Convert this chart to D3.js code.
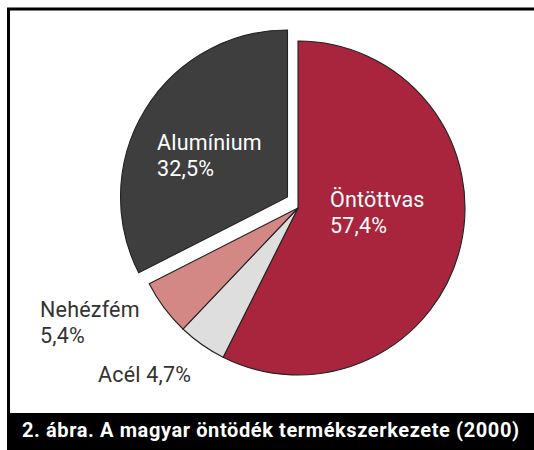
<!DOCTYPE html>
<html>
<head>
<meta charset="utf-8">
<script src="https://cdn.jsdelivr.net/npm/d3@7"></script>
<style>
  body { margin: 0; background: #fff; }
  svg { display: block; }
  .lbl { font-family: Roboto, "Noto Sans", sans-serif; font-size: 21.5px; letter-spacing: 0.2px; }
  .caption { font-family: Roboto, "Noto Sans", sans-serif; font-size: 20px; font-weight: bold; fill: #fff; }
</style>
</head>
<body>
<div class="chart"></div>
<script>
// data
const categories = ["Öntöttvas", "Acél", "Nehézfém", "Alumínium"];
const shares = [57.4, 4.7, 5.4, 32.5];
const colors = ["#a8253d", "#dedede", "#d38886", "#3e3e3e"];
const title = "2. ábra. A magyar öntödék termékszerkezete (2000)";

// layout
const W = 534, H = 450;
const cx = 298, cy = 208, radius = 167;
const explode = [0, 0, 0, 1];
const explodeOffset = [-10.5, -11];
// label placement: x, first baseline, single line or two
const labelPos = [
  {x: 330, y: 207, inline: false, fill: "#fff"},
  {x: 98,  y: 382, inline: true,  fill: "#333"},
  {x: 40,  y: 317, inline: false, fill: "#333"},
  {x: 157, y: 150, inline: false, fill: "#fff"},
];
const lineH = 25.5;

const huLocale = d3.formatLocale({decimal: ",", thousands: " ", grouping: [3], currency: ["", " Ft"]});
const fmt = huLocale.format(".1f");

const svg = d3.select(".chart").append("svg")
  .attr("width", W)
  .attr("height", H);

// frame
svg.append("rect")
  .attr("x", 8.5).attr("y", 9)
  .attr("width", W + 10).attr("height", H)
  .attr("fill", "none")
  .attr("stroke", "#000")
  .attr("stroke-width", 3);

const pie = d3.pie().sort(null).value(d => d)(shares);
const arc = d3.arc().innerRadius(0).outerRadius(radius);

const g = svg.append("g").attr("transform", `translate(${cx},${cy})`);

g.selectAll("path")
  .data(pie)
  .join("path")
  .attr("d", arc)
  .attr("transform", (d, i) => explode[i] ? `translate(${explodeOffset[0]},${explodeOffset[1]})` : null)
  .attr("fill", (d, i) => colors[i])
  .attr("stroke", "#222")
  .attr("stroke-width", 1.1);

// labels
categories.forEach((name, i) => {
  const p = labelPos[i];
  const t = svg.append("text")
    .attr("class", "lbl")
    .attr("fill", p.fill);
  if (p.inline) {
    t.attr("x", p.x).attr("y", p.y).text(`${name} ${fmt(shares[i])}%`);
  } else {
    t.append("tspan").attr("x", p.x).attr("y", p.y).text(name);
    t.append("tspan").attr("x", p.x).attr("y", p.y + lineH).text(`${fmt(shares[i])}%`);
  }
});

// caption bar
svg.append("rect")
  .attr("x", 8).attr("y", 413)
  .attr("width", W - 8).attr("height", H - 413)
  .attr("fill", "#000");

svg.append("text")
  .attr("class", "caption")
  .attr("x", 22).attr("y", 437)
  .attr("textLength", 497)
  .attr("lengthAdjust", "spacing")
  .text(title);
</script>
</body>
</html>
